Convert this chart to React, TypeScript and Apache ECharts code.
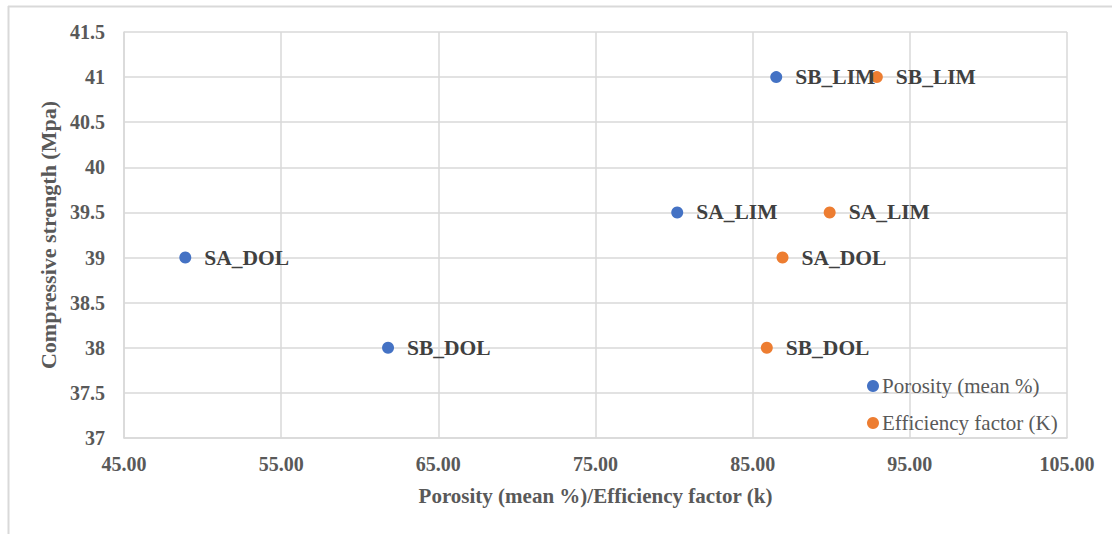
import React, { useEffect, useRef } from "react";
import * as echarts from "echarts";

const porosityNames = ["SB_LIM", "SA_LIM", "SA_DOL", "SB_DOL"];
const porosityX = [86.5, 80.2, 48.9, 61.8];
const porosityY = [41, 39.5, 39, 38];

const efficiencyNames = ["SB_LIM", "SA_LIM", "SA_DOL", "SB_DOL"];
const efficiencyX = [92.9, 89.9, 86.9, 85.9];
const efficiencyY = [41, 39.5, 39, 38];

const seriesNames = ["Porosity (mean %)", "Efficiency factor (K)"];
const colors = ["#4472C4", "#ED7D31"];

const FONT = "'Liberation Serif', 'Times New Roman', serif";

export default function App() {
  const ref = useRef<HTMLDivElement>(null);
  useEffect(() => {
    if (!ref.current) return;
    const chart = echarts.init(ref.current, null, { renderer: "svg" });
    const mk = (xs: number[], ys: number[], ns: string[]) =>
      xs.map((x, i) => [x, ys[i], ns[i]]);
    const labelCfg = {
      show: true,
      position: "right",
      distance: 13,
      formatter: (p: any) => p.data[2],
      color: "#404040",
      fontFamily: FONT,
      fontWeight: "bold",
      fontSize: 21.5,
    };
    chart.setOption({
      animation: false,
      backgroundColor: "#ffffff",
      textStyle: { fontFamily: FONT },
      grid: { left: 124, top: 32, right: 45, bottom: 96, containLabel: false },
      graphic: [
        { type: "line", shape: { x1: 8.5, y1: 6, x2: 8.5, y2: 534 }, style: { stroke: "#d9d9d9", lineWidth: 2 } },
        { type: "line", shape: { x1: 8, y1: 6.5, x2: 1112, y2: 6.5 }, style: { stroke: "#d9d9d9", lineWidth: 2 } },
      ],
      legend: {
        orient: "vertical",
        left: 862,
        top: 370,
        itemWidth: 12,
        itemHeight: 12,
        itemGap: 15,
        icon: "circle",
        data: seriesNames,
        textStyle: {
          color: "#595959",
          fontFamily: FONT,
          fontSize: 21,
          lineHeight: 22,
          padding: [0, 0, 0, -2],
        },
      },
      xAxis: {
        type: "value",
        min: 45,
        max: 105,
        interval: 10,
        name: "Porosity (mean %)/Efficiency factor (k)",
        nameLocation: "middle",
        nameGap: 47,
        nameTextStyle: { color: "#595959", fontWeight: "bold", fontSize: 21, fontFamily: FONT },
        axisLine: { show: true, lineStyle: { color: "#d9d9d9", width: 1.5 } },
        axisTick: { show: false },
        axisLabel: {
          margin: 16,
          color: "#595959",
          fontWeight: "bold",
          fontSize: 20,
          fontFamily: FONT,
          formatter: (v: number) => v.toFixed(2),
        },
        splitLine: { show: true, lineStyle: { color: "#d9d9d9", width: 1.5 } },
      },
      yAxis: {
        type: "value",
        min: 37,
        max: 41.5,
        interval: 0.5,
        name: "Compressive strength (Mpa)",
        nameLocation: "middle",
        nameGap: 56,
        nameTextStyle: { color: "#595959", fontWeight: "bold", fontSize: 22, fontFamily: FONT },
        axisLine: { show: true, lineStyle: { color: "#d9d9d9", width: 1.5 } },
        axisTick: { show: false },
        axisLabel: {
          margin: 19,
          color: "#595959",
          fontWeight: "bold",
          fontSize: 20,
          fontFamily: FONT,
        },
        splitLine: { show: true, lineStyle: { color: "#d9d9d9", width: 1.5 } },
      },
      series: [
        {
          name: seriesNames[0],
          type: "scatter",
          symbolSize: 12,
          itemStyle: { color: colors[0], opacity: 1 },
          label: labelCfg,
          data: mk(porosityX, porosityY, porosityNames),
        },
        {
          name: seriesNames[1],
          type: "scatter",
          symbolSize: 12,
          itemStyle: { color: colors[1], opacity: 1 },
          label: labelCfg,
          data: mk(efficiencyX, efficiencyY, efficiencyNames),
        },
      ],
    });
    return () => chart.dispose();
  }, []);
  return (
    <div
      ref={ref}
      style={{ position: "fixed", left: 0, top: 0, width: 1112, height: 534 }}
    />
  );
}
